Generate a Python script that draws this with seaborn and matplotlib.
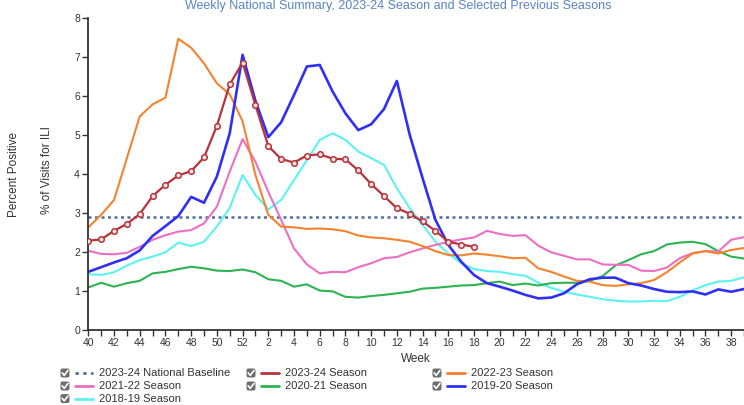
import numpy as np
import pandas as pd
import matplotlib
matplotlib.use("Agg")
import matplotlib.pyplot as plt
from matplotlib.patches import FancyBboxPatch
import seaborn as sns

# week order of a flu season: week 40 .. 52, then 1 .. 39
weeks = list(range(40, 53)) + list(range(1, 40))
baseline = 2.9

s2023_24 = [2.29, 2.32, 2.54, 2.72, 2.97, 3.43, 3.72, 3.96, 4.07, 4.42, 5.23, 6.29, 6.85,
            5.76, 4.71, 4.38, 4.29, 4.47, 4.50, 4.39, 4.37, 4.09, 3.74, 3.43, 3.12, 2.98,
            2.78, 2.54, 2.26, 2.19, 2.13]
s2022_23 = [2.63, 2.95, 3.33, 4.40, 5.47, 5.78, 5.95, 7.46, 7.23, 6.83, 6.32, 6.04, 5.35,
            3.97, 2.95, 2.65, 2.63, 2.59, 2.60, 2.58, 2.53, 2.42, 2.37, 2.35, 2.31, 2.26,
            2.15, 2.02, 1.92, 1.91, 1.96, 1.93, 1.89, 1.84, 1.85, 1.58, 1.49, 1.37, 1.26,
            1.24, 1.15, 1.13, 1.17, 1.20, 1.28, 1.48, 1.73, 1.96, 2.02, 1.96, 2.05, 2.10]
s2021_22 = [2.03, 1.95, 1.94, 1.98, 2.13, 2.31, 2.43, 2.52, 2.56, 2.73, 3.16, 4.06, 4.89,
            4.31, 3.54, 2.82, 2.09, 1.68, 1.45, 1.49, 1.48, 1.61, 1.71, 1.84, 1.87, 1.99,
            2.09, 2.18, 2.26, 2.32, 2.37, 2.54, 2.46, 2.41, 2.43, 2.16, 1.99, 1.90, 1.81,
            1.81, 1.68, 1.67, 1.67, 1.52, 1.51, 1.60, 1.84, 1.97, 2.02, 2.01, 2.31, 2.38]
s2020_21 = [1.09, 1.21, 1.11, 1.20, 1.26, 1.45, 1.49, 1.56, 1.62, 1.58, 1.52, 1.51, 1.55,
            1.48, 1.30, 1.26, 1.11, 1.17, 1.01, 0.99, 0.85, 0.83, 0.87, 0.90, 0.94, 0.98,
            1.06, 1.08, 1.11, 1.14, 1.15, 1.20, 1.24, 1.15, 1.19, 1.14, 1.20, 1.21, 1.21,
            1.26, 1.38, 1.65, 1.79, 1.94, 2.02, 2.19, 2.24, 2.26, 2.20, 2.02, 1.88, 1.83]
s2019_20 = [1.49, 1.61, 1.73, 1.84, 2.04, 2.41, 2.66, 2.92, 3.41, 3.26, 3.93, 5.04, 7.05,
            5.87, 4.94, 5.32, 6.02, 6.75, 6.79, 6.11, 5.55, 5.12, 5.27, 5.66, 6.38, 5.00,
            3.89, 2.82, 2.18, 1.75, 1.41, 1.20, 1.11, 1.01, 0.90, 0.81, 0.83, 0.94, 1.17,
            1.30, 1.34, 1.34, 1.20, 1.14, 1.05, 0.98, 0.97, 0.99, 0.91, 1.04, 0.98, 1.05]
s2018_19 = [1.43, 1.41, 1.48, 1.65, 1.79, 1.88, 1.99, 2.24, 2.15, 2.26, 2.65, 3.13, 3.97,
            3.46, 3.09, 3.33, 3.84, 4.35, 4.87, 5.04, 4.87, 4.57, 4.40, 4.23, 3.63, 3.12,
            2.69, 2.26, 1.96, 1.71, 1.56, 1.51, 1.49, 1.43, 1.39, 1.21, 1.08, 0.98, 0.91,
            0.85, 0.79, 0.75, 0.73, 0.73, 0.75, 0.74, 0.85, 1.01, 1.15, 1.24, 1.26, 1.35]

seasons = {
    "2018-19 Season": (s2018_19, "#5cf2f2"),
    "2020-21 Season": (s2020_21, "#2db352"),
    "2021-22 Season": (s2021_22, "#ee6fc2"),
    "2022-23 Season": (s2022_23, "#f5822e"),
    "2019-20 Season": (s2019_20, "#3030f5"),
}

rows = []
for name, (vals, _) in seasons.items():
    for i, v in enumerate(vals):
        rows.append({"season": name, "idx": i, "pct": v})
df = pd.DataFrame(rows)
cur = pd.DataFrame({"idx": range(len(s2023_24)), "pct": s2023_24})

sns.set_style("white")
plt.rcParams["font.family"] = ["Liberation Sans", "DejaVu Sans"]

W, H = 744, 405
fig = plt.figure(figsize=(W / 100, H / 100), dpi=100)
ax = fig.add_axes([88.3 / W, 75 / H, 1 - 88.3 / W, 312.3 / H])

ax.axhline(baseline, color="#4f6f9f", lw=1.8, ls=(0, (1.2, 1.4)), zorder=1)

pal = {k: c for k, (_, c) in seasons.items()}
sns.lineplot(data=df, x="idx", y="pct", hue="season", palette=pal, lw=1.5,
             legend=False, ax=ax, zorder=2)
# 2019-20 a bit heavier
for line in ax.get_lines():
    if matplotlib.colors.to_hex(line.get_color()) == "#3030f5":
        line.set_linewidth(1.9)
sns.lineplot(data=cur, x="idx", y="pct", color="#b8333a", lw=1.6, marker="o",
             markersize=4, markerfacecolor="#f4e4e4", markeredgecolor="#b8333a",
             markeredgewidth=1.1, ax=ax, zorder=3)

ax.set_xlim(0, (W - 88.3) / 13.0)
ax.set_ylim(0, 8)
ax.set_xticks(range(len(weeks)))
ax.set_xticklabels([str(w) if i % 2 == 0 else "" for i, w in enumerate(weeks)])
ax.set_yticks(range(0, 9))
ax.tick_params(axis="both", direction="out", length=4, width=1, color="#333333",
               labelsize=7.5, labelcolor="#333333", pad=2, left=True, bottom=True)
for s in ["top", "right"]:
    ax.spines[s].set_visible(False)
for s in ["left", "bottom"]:
    ax.spines[s].set_color("#333333")
    ax.spines[s].set_linewidth(1.3)
ax.set_xlabel("Week", fontsize=8.5, color="#333333", labelpad=3)
ax.set_ylabel("")

fig.text(47 / W, 1 - 170 / H, "% of Visits for ILI", rotation=90, fontsize=8.5,
         color="#333333", ha="center", va="center")
fig.text(14 / W, 1 - 175 / H, "Percent Positive", rotation=90, fontsize=8.5,
         color="#333333", ha="center", va="center")
fig.text(398 / W, 1 - 9 / H,
         "Weekly National Summary, 2023-24 Season and Selected Previous Seasons",
         fontsize=9, color="#5b84c4", ha="center", va="baseline")

# legend with checkboxes (drawn in pixel coords, origin bottom-left)
legend_items = [
    ("2023-24 National Baseline", "#4f6f9f", "dot", 0, 0),
    ("2023-24 Season", "#b8333a", "solid", 1, 0),
    ("2022-23 Season", "#f5822e", "solid", 2, 0),
    ("2021-22 Season", "#ee6fc2", "solid", 0, 1),
    ("2020-21 Season", "#2db352", "solid", 1, 1),
    ("2019-20 Season", "#3030f5", "solid", 2, 1),
    ("2018-19 Season", "#5cf2f2", "solid", 0, 2),
]
col_x = [65, 251, 437]
row_y = [373, 386, 398.5]
for label, color, style, c, r in legend_items:
    x0 = col_x[c]
    py = H - row_y[r]
    box = FancyBboxPatch((x0 - 4, py - 4), 8, 8,
                         boxstyle="round,pad=0.5,rounding_size=2",
                         fc="#6d6d6d", ec="none", transform=None)
    fig.add_artist(box)
    fig.add_artist(plt.Line2D([x0 - 2.8, x0 - 0.8, x0 + 3.0], [py + 0.2, py - 2.4, py + 2.6],
                              color="white", lw=1.2, transform=None))
    ls = (0, (1.2, 1.6)) if style == "dot" else "-"
    fig.add_artist(plt.Line2D([(x0 + 10) / W, (x0 + 28) / W], [py / H, py / H],
                              color=color, lw=2, ls=ls, transform=fig.transFigure))
    fig.text((x0 + 34) / W, py / H, label, fontsize=8, color="#333333",
             ha="left", va="center")

fig.savefig("out.png", dpi=100)
